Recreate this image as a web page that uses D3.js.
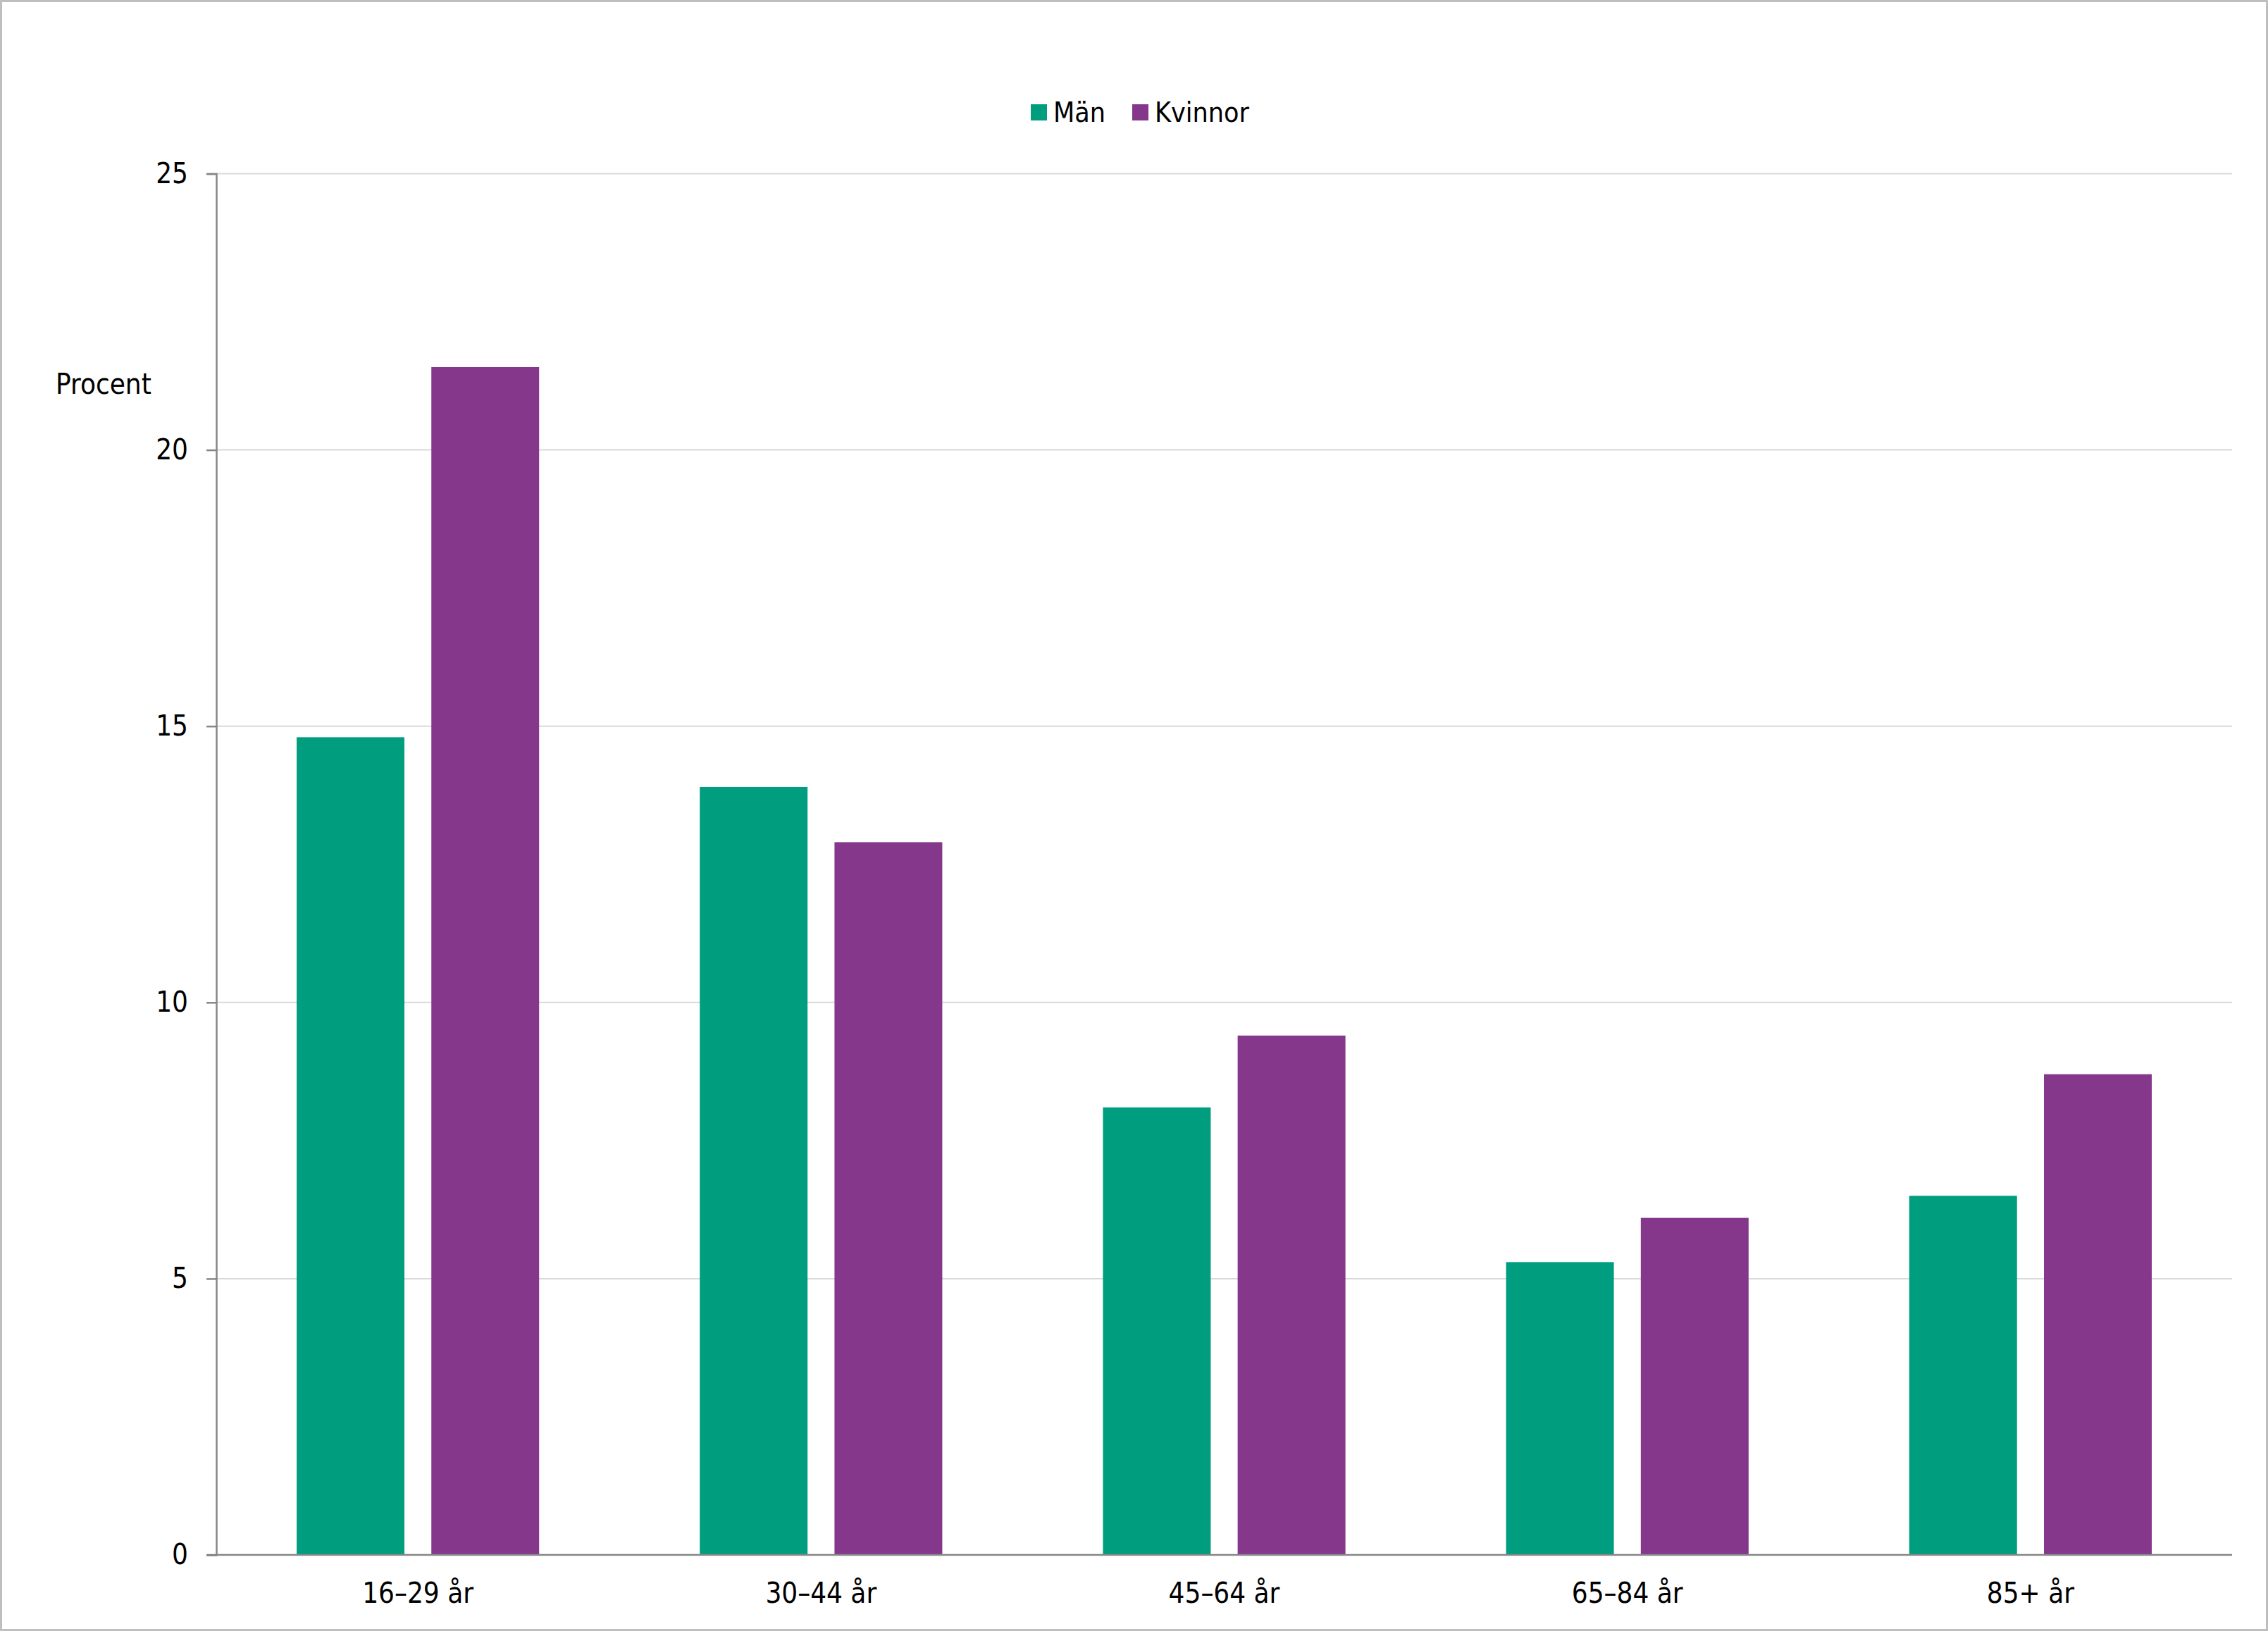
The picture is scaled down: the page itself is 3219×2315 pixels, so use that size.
<!DOCTYPE html>
<html>
<head>
<meta charset="utf-8">
<script src="https://cdn.jsdelivr.net/npm/d3@7"></script>
<style>
body { margin: 0; background: #fff; }
svg { display: block; font-family: 'DejaVu Sans Condensed', 'DejaVu Sans', sans-serif; font-stretch: condensed; }
</style>
</head>
<body>
<svg width="3219" height="2315"></svg>
<script>
var categories = ['16–29 år', '30–44 år', '45–64 år', '65–84 år', '85+ år']
var series = ['Män', 'Kvinnor']
var man = [14.8, 13.9, 8.1, 5.3, 6.5]
var kvinnor = [21.5, 12.9, 9.4, 6.1, 8.7]
var yTicks = [0, 5, 10, 15, 20, 25]
var colors = ['#009e7e', '#84378b']

var svg = d3.select('svg'),
    W = +svg.attr('width'),
    H = +svg.attr('height')

// plot area (window.top is reserved, so own names)
var plotL = 307, plotR = 3168, plotT = 246.5, plotB = 2207

// outer border
svg.append('rect')
    .attr('x', 1.5).attr('y', 1.5)
    .attr('width', W - 3).attr('height', H - 3)
    .attr('fill', '#fff')
    .attr('stroke', '#bfbfbf')
    .attr('stroke-width', 3)

var x0 = d3.scaleBand().domain(categories).range([plotL, plotR]).padding(0)
var step = x0.bandwidth()
var x1 = d3.scaleBand().domain(series).range([114, step - 114]).paddingInner(0.2)
var y = d3.scaleLinear().domain([0, 25]).range([plotB, plotT])

// gridlines
svg.append('g').selectAll('line')
    .data(yTicks.filter(function(d) { return d > 0 }))
    .enter().append('line')
    .attr('x1', plotL).attr('x2', plotR)
    .attr('y1', function(d) { return y(d) })
    .attr('y2', function(d) { return y(d) })
    .attr('stroke', '#d9d9d9')
    .attr('stroke-width', 2)

// bars
var rows = categories.map(function(c, i) {
    return {cat: c, vals: [man[i], kvinnor[i]]}
})
var groups = svg.append('g').selectAll('g')
    .data(rows)
    .enter().append('g')
    .attr('transform', function(d) { return 'translate(' + x0(d.cat) + ',0)' })
groups.selectAll('rect')
    .data(function(d) { return d.vals.map(function(v, j) { return {s: series[j], v: v, j: j} }) })
    .enter().append('rect')
    .attr('x', function(d) { return x1(d.s) })
    .attr('width', x1.bandwidth())
    .attr('y', function(d) { return y(d.v) })
    .attr('height', function(d) { return plotB - y(d.v) })
    .attr('fill', function(d) { return colors[d.j] })

// y axis
var yAxis = svg.append('g')
    .attr('transform', 'translate(' + plotL + ',0)')
    .call(d3.axisLeft(y).tickValues(yTicks).tickSize(14).tickPadding(26))
    .attr('font-family', null)
yAxis.select('.domain').attr('stroke', '#868686').attr('stroke-width', 2.5)
yAxis.selectAll('.tick line').attr('stroke', '#868686').attr('stroke-width', 2.5)
yAxis.selectAll('.tick text')
    .attr('font-size', 40).attr('fill', '#000')

// x axis
var xAxis = svg.append('g')
    .attr('transform', 'translate(0,' + plotB + ')')
    .call(d3.axisBottom(x0).tickSize(0).tickPadding(40))
    .attr('font-family', null)
xAxis.select('.domain').attr('stroke', '#868686').attr('stroke-width', 2.5)
    .attr('d', 'M' + (plotL - 14) + ',0H' + plotR)
xAxis.selectAll('.tick text')
    .attr('font-size', 40).attr('fill', '#000')

// axis title
svg.append('text')
    .attr('x', 79).attr('y', 559)
    .attr('font-size', 40)
    .text('Procent')

// legend
var legendX = [1463, 1607]
var legend = svg.append('g').selectAll('g')
    .data(series)
    .enter().append('g')
    .attr('transform', function(d, i) { return 'translate(' + legendX[i] + ',148)' })
legend.append('rect')
    .attr('width', 23).attr('height', 23)
    .attr('fill', function(d, i) { return colors[i] })
legend.append('text')
    .attr('x', 32).attr('y', 25)
    .attr('font-size', 39)
    .text(function(d) { return d })
</script>
</body>
</html>
